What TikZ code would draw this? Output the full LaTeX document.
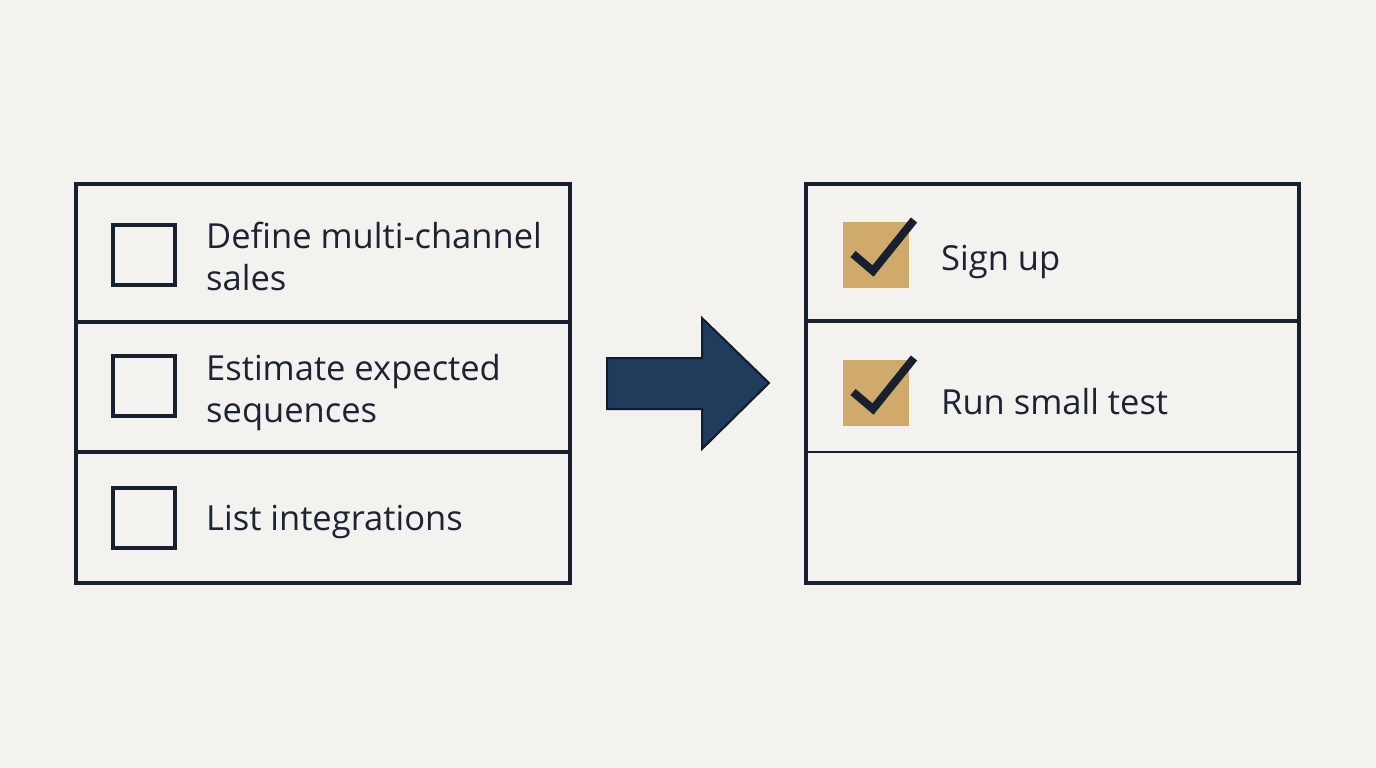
\documentclass[tikz,border=0pt]{standalone}
\usepackage{fontspec}
\setmainfont{Open Sans}
\definecolor{bg}{HTML}{F3F2EE}
\definecolor{ink}{HTML}{17202E}
\definecolor{txt}{HTML}{1B2433}
\definecolor{gold}{HTML}{CFAA6A}
\definecolor{navy}{HTML}{213B5C}
\definecolor{navyedge}{HTML}{0F1C2E}
\begin{document}
\begin{tikzpicture}[x=1pt,y=-1pt,
  frame/.style={draw=ink,line width=3.2pt},
  divider/.style={draw=ink,line width=3.2pt},
  thindiv/.style={draw=ink,line width=1.3pt},
  openbox/.style={draw=ink,line width=3.2pt,minimum width=62pt,minimum height=60pt,inner sep=0pt},
  goldbox/.style={fill=gold,minimum width=66pt,minimum height=66pt,inner sep=0pt},
  tick/.style={draw=ink,line width=8pt,line join=miter},
  label/.style={anchor=base west,inner sep=0pt,text=txt,font=\fontsize{34.5}{42}\selectfont,align=left}]
\useasboundingbox (0,0) rectangle (1376,768);
\fill[bg] (0,0) rectangle (1376,768);
% left panel
\draw[frame] (76,184) rectangle (570,583);
\draw[divider] (76,322) -- (570,322);
\draw[divider] (76,452) -- (570,452);
\node[openbox] (b1) at (144,255) {};
\node[openbox] (b2) at (144,386) {};
\node[openbox] (b3) at (144,518) {};
\node[label] (t1) at (206,290) {Define multi-channel\\sales};
\node[label] (t2) at (206,422) {Estimate expected\\sequences};
\node[label] (t3) at (206,530) {List integrations};
% arrow
\draw[fill=navy,draw=navyedge,line width=2pt,line join=miter]
  (607,358) -- (702,358) -- (702,318) -- (769,383) -- (702,449) -- (702,409) -- (607,409) -- cycle;
% right panel
\draw[frame] (806,184) rectangle (1299,583);
\draw[divider] (806,321) -- (1299,321);
\draw[thindiv] (806,452) -- (1299,452);
\node[goldbox] (g1) at (876,255) {};
\node[goldbox] (g2) at (876,393) {};
\draw[tick] (853,254) -- (873,271) -- (914,220);
\draw[tick] (853,392) -- (873,409) -- (914,358);
\node[label] (s1) at (941,270) {Sign up};
\node[label] (s2) at (941,414) {Run small test};
\end{tikzpicture}
\end{document}
